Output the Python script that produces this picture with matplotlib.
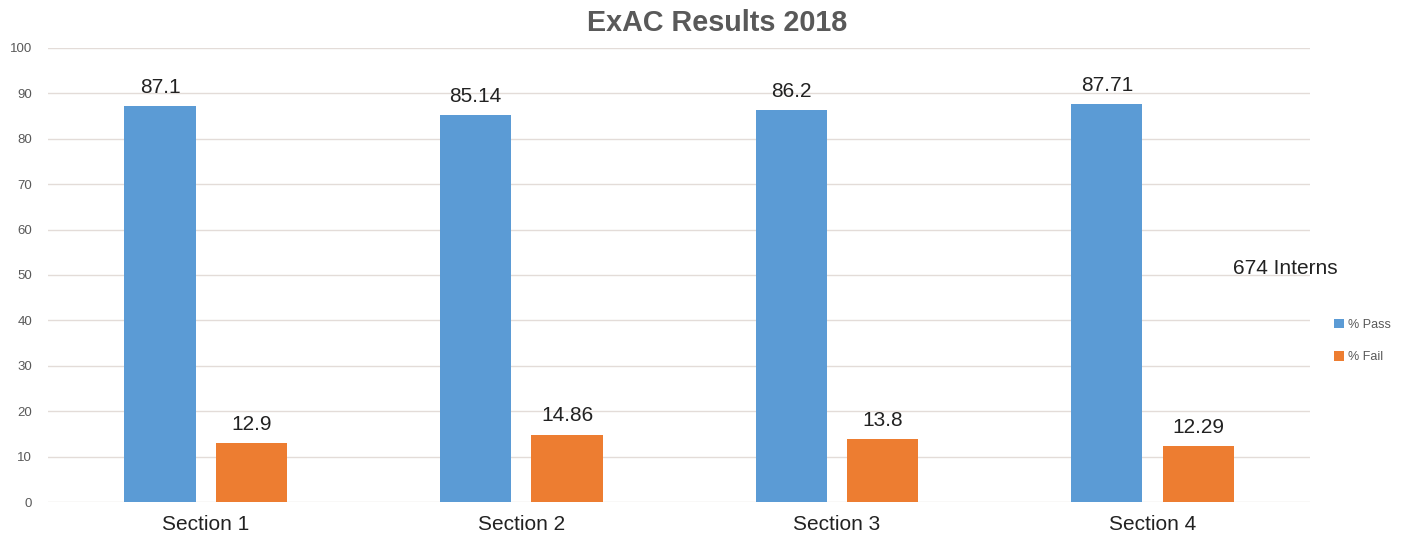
import numpy as np
import matplotlib.pyplot as plt

# Chart data
sections = ['Section 1', 'Section 2', 'Section 3', 'Section 4']
pass_pct = [87.1, 85.14, 86.2, 87.71]
fail_pct = [12.9, 14.86, 13.8, 12.29]

plt.rcParams['font.family'] = ['Liberation Sans', 'DejaVu Sans']

fig = plt.figure(figsize=(14.12, 5.37), dpi=100)
ax = fig.add_axes([0.034, 0.065, 0.894, 0.846])

x = np.arange(len(sections))
w = 0.226
off = 0.145

b1 = ax.bar(x - off, pass_pct, w, color='#5B9BD5', label='% Pass', zorder=3)
b2 = ax.bar(x + off, fail_pct, w, color='#ED7D31', label='% Fail', zorder=3)

# value labels above the bars
for bars, vals in ((b1, pass_pct), (b2, fail_pct)):
    for b, v in zip(bars, vals):
        ax.text(b.get_x() + b.get_width() / 2, v + 2, f'{v:g}',
                ha='center', va='bottom', fontsize=15, color='#222222')

ax.set_xlim(-0.5, 3.5)
ax.set_ylim(0, 100)
ax.set_yticks(range(0, 101, 10))
ax.set_xticks(x)
ax.set_xticklabels(sections, fontsize=15, color='#222222')
ax.tick_params(axis='y', labelsize=9.5, labelcolor='#595959', length=0, pad=11.5)
ax.tick_params(axis='x', length=0, pad=9)
ax.grid(axis='y', color='#E3DCD8', linewidth=1, zorder=0)
for sp in ax.spines.values():
    sp.set_visible(False)

fig.suptitle('ExAC Results 2018', x=0.508, y=0.958, va='center', fontsize=20.7,
             fontweight='bold', color='#595959')

fig.text(0.873, 0.5, '674 Interns', fontsize=15, color='#222222',
         ha='left', va='center')
fig.legend(handles=[b1, b2], loc='center left', bbox_to_anchor=(0.937, 0.365),
           frameon=False, fontsize=9, labelcolor='#595959', handlelength=0.8,
           handleheight=0.8, handletextpad=0.3, labelspacing=1.6)

fig.savefig('out.png', dpi=100)
